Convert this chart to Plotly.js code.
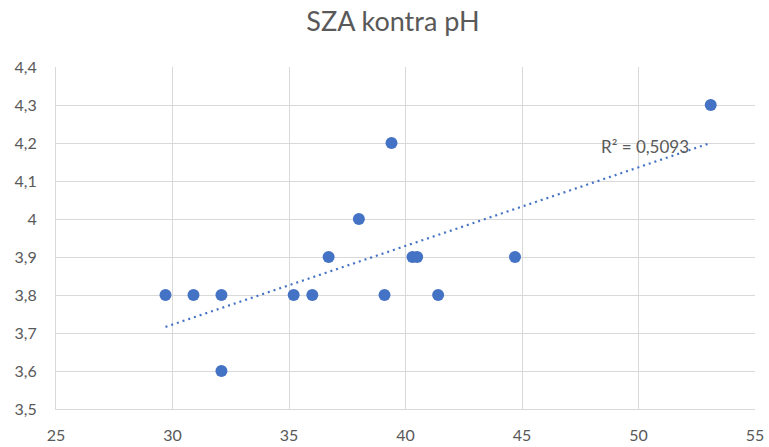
<!DOCTYPE html>
<html>
<head>
<meta charset="utf-8">
<script src="https://cdn.plot.ly/plotly-3.0.1.min.js"></script>
<style>html,body{margin:0;padding:0;background:#fff;}#chart{width:769px;height:447px;}</style>
</head>
<body>
<div id="chart"></div>
<script>
// Data (SZA on x, pH on y)
const szaValues = [29.7, 30.9, 32.1, 32.1, 35.2, 36.0, 36.7, 38.0, 39.4, 39.1, 40.3, 40.5, 41.4, 44.7, 53.1];
const phValues  = [3.8, 3.8, 3.8, 3.6, 3.8, 3.8, 3.9, 4.0, 4.2, 3.8, 3.9, 3.9, 3.8, 3.9, 4.3];
const xTickVals = [25, 30, 35, 40, 45, 50, 55];
const xTickText = ['25', '30', '35', '40', '45', '50', '55'];
const yTickVals = [3.5, 3.6, 3.7, 3.8, 3.9, 4.0, 4.1, 4.2, 4.3, 4.4];
const yTickText = ['3,5', '3,6', '3,7', '3,8', '3,9', '4', '4,1', '4,2', '4,3', '4,4'];
const chartTitle = 'SZA kontra pH';
const r2Label = 'R² = 0,5093';

// Linear trendline (least squares) from the data
const n = szaValues.length;
const mx = szaValues.reduce((a, b) => a + b, 0) / n;
const my = phValues.reduce((a, b) => a + b, 0) / n;
let sxy = 0, sxx = 0;
for (let i = 0; i < n; i++) { sxy += (szaValues[i] - mx) * (phValues[i] - my); sxx += (szaValues[i] - mx) ** 2; }
const slope = sxy / sxx, intercept = my - slope * mx;
const xMin = Math.min(...szaValues), xMax = Math.max(...szaValues);
const trendX = [xMin, xMax];
const trendY = trendX.map(x => intercept + slope * x);

const blue = '#4472C4';
const grey = '#595959';
const grid = '#d9d9d9';
const fontFam = 'Lato, "Open Sans", sans-serif';

const traces = [
  { x: trendX, y: trendY, type: 'scatter', mode: 'lines',
    line: { color: blue, width: 2.2, dash: '2px,4px' }, hoverinfo: 'skip' },
  { x: szaValues, y: phValues, type: 'scatter', mode: 'markers',
    marker: { color: blue, size: 12, line: { width: 0 } } }
];

const layout = {
  width: 769, height: 447,
  margin: { l: 56, r: 14, t: 67, b: 38 },
  paper_bgcolor: '#fff', plot_bgcolor: '#fff',
  showlegend: false,
  font: { family: fontFam, color: grey, size: 16 },
  title: { text: chartTitle, x: 0.511, xanchor: 'center', y: 0.952, yanchor: 'middle',
           font: { family: fontFam, size: 27, color: grey } },
  xaxis: { range: [25, 55], tickvals: xTickVals, ticktext: xTickText,
           showgrid: true, gridcolor: grid, gridwidth: 1,
           showline: true, linecolor: grid, linewidth: 1, mirror: false,
           zeroline: false, ticks: '', ticklabelstandoff: 12,
           tickfont: { family: fontFam, size: 16, color: grey } },
  yaxis: { range: [3.5, 4.4], tickvals: yTickVals, ticktext: yTickText,
           showgrid: true, gridcolor: grid, gridwidth: 1,
           showline: true, linecolor: grid, linewidth: 1,
           zeroline: false, ticks: '', ticklabelstandoff: 15,
           tickfont: { family: fontFam, size: 16, color: grey } },
  annotations: [
    { x: 48.3, y: 4.19, xref: 'x', yref: 'y', text: r2Label, showarrow: false,
      xanchor: 'left', yanchor: 'middle', font: { family: fontFam, size: 17, color: grey } }
  ]
};

Plotly.newPlot('chart', traces, layout, { staticPlot: true, displayModeBar: false });
</script>
</body>
</html>
